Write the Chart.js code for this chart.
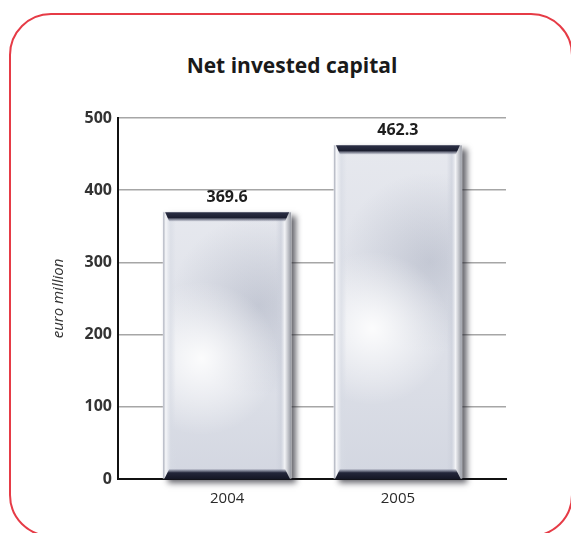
<!DOCTYPE html>
<html>
<head>
<meta charset="utf-8">
<title>Net invested capital</title>
<script src="https://cdn.jsdelivr.net/npm/chart.js@4.4.0/dist/chart.umd.min.js"></script>
<style>
  html, body { margin: 0; padding: 0; background: #fff; }
  #wrap { position: relative; width: 571px; height: 533px; overflow: hidden; }
  .frame {
    position: absolute; left: 9px; top: 13px; width: 564px; height: 524px;
    box-sizing: border-box; border: 2px solid #e63b46; border-radius: 42px;
  }
  .title {
    position: absolute; left: 0; top: 51px; width: 584px; text-align: center;
    font: bold 21px "Open Sans", sans-serif; color: #1a1a1a;
  }
  canvas { position: absolute; left: 0; top: 0; }
</style>
</head>
<body>
<div id="wrap">
  <div class="frame"></div>
  <div class="title">Net invested capital</div>
  <canvas id="capitalChart" width="571" height="533"></canvas>
</div>
<script>
// net invested capital, euro million
const years = ['2004', '2005'];
const netCapital = [369.6, 462.3];
const yAxisMax = 500;
const yAxisStep = 100;

// silver bar look: shading, edge strips, dark caps, value labels
const glossyBars = {
  id: 'glossyBars',
  beforeDatasetDraw(chart) {
    const ctx = chart.ctx;
    ctx.save();
    ctx.shadowColor = 'rgba(20, 20, 30, 0.65)';
    ctx.shadowBlur = 6;
    ctx.shadowOffsetX = 5;
    ctx.shadowOffsetY = 4;
  },
  afterDatasetDraw(chart) {
    chart.ctx.restore();
  },
  afterDatasetsDraw(chart) {
    const ctx = chart.ctx;
    chart.getDatasetMeta(0).data.forEach((bar, i) => {
      const { x, y, base, width } = bar.getProps(['x', 'y', 'base', 'width'], true);
      const l = x - width / 2, r = x + width / 2, h = base - y;

      ctx.save();
      ctx.beginPath();
      ctx.rect(l, y, width, h);
      ctx.clip();

      // soft grey swirl and white highlight
      const grey = ctx.createRadialGradient(l + width * 0.75, y + h * 0.35, 0, l + width * 0.75, y + h * 0.35, width * 0.7);
      grey.addColorStop(0, 'rgba(160, 166, 184, 0.45)');
      grey.addColorStop(1, 'rgba(160, 166, 184, 0)');
      ctx.fillStyle = grey;
      ctx.fillRect(l, y, width, h);

      const low = ctx.createLinearGradient(0, y, 0, base);
      low.addColorStop(0, 'rgba(175, 182, 200, 0)');
      low.addColorStop(0.7, 'rgba(175, 182, 200, 0.2)');
      low.addColorStop(1, 'rgba(175, 182, 200, 0.35)');
      ctx.fillStyle = low;
      ctx.fillRect(l, y, width, h);

      const white = ctx.createRadialGradient(l + width * 0.3, y + h * 0.55, 0, l + width * 0.3, y + h * 0.55, width * 0.6);
      white.addColorStop(0, 'rgba(255, 255, 255, 0.9)');
      white.addColorStop(1, 'rgba(255, 255, 255, 0)');
      ctx.fillStyle = white;
      ctx.fillRect(l, y, width, h);

      // edge strips
      const edge = ctx.createLinearGradient(l, 0, r, 0);
      edge.addColorStop(0, 'rgba(170, 174, 186, 1)');
      edge.addColorStop(0.02, 'rgba(245, 246, 249, 1)');
      edge.addColorStop(0.06, 'rgba(215, 219, 228, 0.6)');
      edge.addColorStop(0.1, 'rgba(215, 219, 228, 0)');
      edge.addColorStop(0.88, 'rgba(205, 209, 220, 0)');
      edge.addColorStop(0.92, 'rgba(205, 209, 220, 0.7)');
      edge.addColorStop(0.95, 'rgba(242, 243, 246, 1)');
      edge.addColorStop(1, 'rgba(150, 153, 162, 1)');
      ctx.fillStyle = edge;
      ctx.fillRect(l, y, width, h);
      ctx.restore();

      // top cap
      const topCap = ctx.createLinearGradient(0, y, 0, y + 9);
      topCap.addColorStop(0, '#2c3046');
      topCap.addColorStop(0.6, '#1b1e30');
      topCap.addColorStop(1, 'rgba(90, 95, 120, 0.2)');
      ctx.fillStyle = topCap;
      ctx.beginPath();
      ctx.moveTo(l + 2, y);
      ctx.lineTo(r - 2, y);
      ctx.lineTo(r - 6, y + 9);
      ctx.lineTo(l + 6, y + 9);
      ctx.closePath();
      ctx.fill();

      // bottom cap
      const botCap = ctx.createLinearGradient(0, base - 9, 0, base + 1);
      botCap.addColorStop(0, 'rgba(90, 95, 120, 0.3)');
      botCap.addColorStop(0.35, '#23263a');
      botCap.addColorStop(1, '#141624');
      ctx.fillStyle = botCap;
      ctx.beginPath();
      ctx.moveTo(l + 6, base - 9);
      ctx.lineTo(r - 6, base - 9);
      ctx.lineTo(r - 1, base + 1);
      ctx.lineTo(l + 1, base + 1);
      ctx.closePath();
      ctx.fill();

      // value label
      ctx.fillStyle = '#1e1e1e';
      ctx.font = 'bold 16px "Open Sans", sans-serif';
      ctx.textAlign = 'center';
      ctx.textBaseline = 'middle';
      ctx.fillText(netCapital[i].toFixed(1), x, y - 15);
    });
  }
};

const ctx = document.getElementById('capitalChart').getContext('2d');
new Chart(ctx, {
  type: 'bar',
  data: {
    datasets: [{
      data: netCapital.map((v, i) => ({ x: i, y: v })),
      backgroundColor: '#e6e8ee',
      borderWidth: 0,
      barThickness: 128,
      clip: false
    }]
  },
  options: {
    responsive: false,
    animation: false,
    devicePixelRatio: 1,
    layout: { padding: { left: 40, right: 65, top: 118, bottom: 14 } },
    plugins: {
      legend: { display: false },
      tooltip: { enabled: false }
    },
    scales: {
      x: {
        type: 'linear',
        offset: false,
        min: -0.639,
        max: 1.633,
        grid: { display: false, drawTicks: false, offset: false },
        border: { display: true, color: '#111', width: 2 },
        ticks: {
          stepSize: 1,
          includeBounds: false,
          padding: 11,
          color: '#2a2a2a',
          font: { family: 'Open Sans', size: 15 },
          callback: (v) => years[v] ?? ''
        }
      },
      y: {
        min: 0,
        max: yAxisMax,
        afterFit: (scale) => { scale.width = 78; },
        grid: { color: 'rgba(150, 150, 150, 0.85)', lineWidth: 1.5, drawTicks: false },
        border: { display: true, color: '#111', width: 2 },
        ticks: {
          stepSize: yAxisStep,
          padding: 6,
          color: '#333',
          font: { family: 'Open Sans', size: 16, weight: 'bold' }
        },
        title: {
          display: true,
          text: 'euro million',
          color: '#333',
          padding: { top: 10, bottom: 0 },
          font: { family: 'Open Sans', size: 15, style: 'italic', weight: 'normal' }
        }
      }
    }
  },
  plugins: [glossyBars]
});
</script>
</body>
</html>
